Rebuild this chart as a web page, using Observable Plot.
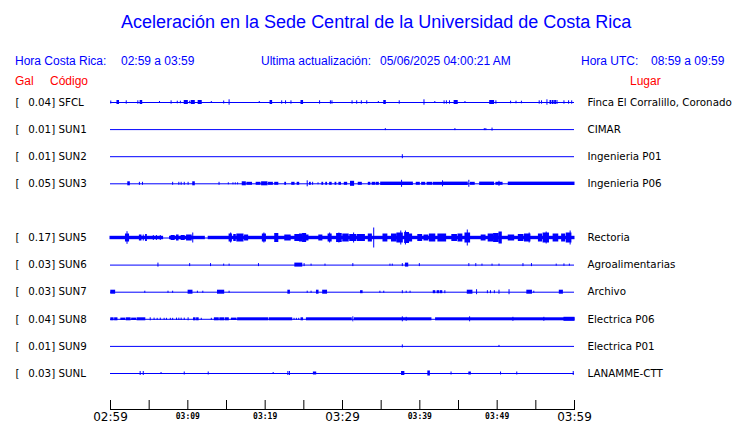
<!DOCTYPE html>
<html><head><meta charset="utf-8">
<script src="https://cdn.jsdelivr.net/npm/d3@7"></script>
<script src="https://cdn.jsdelivr.net/npm/@observablehq/plot@0.6"></script>
<style>
html,body{margin:0;padding:0;background:#fff;}
#chart{position:relative;width:740px;height:423px;overflow:hidden;background:#fff;}
#chart svg{position:absolute;left:0;top:0;}
.h{position:absolute;white-space:pre;font-family:"Liberation Sans",Arial,sans-serif;font-size:12px;line-height:12px;z-index:2;}
.b{color:#0000ff}.r{color:#ff0000}
.t{font-size:18px;line-height:18px;}
</style></head><body>
<div id="chart">
  <div class="h b t" style="left:121px;top:13px;">Aceleración en la Sede Central de la Universidad de Costa Rica</div>
  <div class="h b" style="left:15px;top:55px;">Hora Costa Rica:</div>
  <div class="h b" style="left:121px;top:55px;">02:59 a 03:59</div>
  <div class="h b" style="left:261px;top:55px;">Ultima actualización:</div>
  <div class="h b" style="left:380px;top:55px;">05/06/2025 04:00:21 AM</div>
  <div class="h b" style="left:581px;top:55px;">Hora UTC:</div>
  <div class="h b" style="left:651px;top:55px;">08:59 a 09:59</div>
  <div class="h r" style="left:15px;top:75px;">Gal</div>
  <div class="h r" style="left:50px;top:75px;">Código</div>
  <div class="h r" style="left:630px;top:75px;">Lugar</div>
</div>
<script>
// ---- data ----
const CODES = ["SFCL","SUN1","SUN2","SUN3","SUN4","SUN5","SUN6","SUN7","SUN8","SUN9","SUNL"];
const PEAK_GAL = [0.04,0.01,0.01,0.05,null,0.17,0.03,0.03,0.04,0.01,0.03];
const PLACES = ["Finca El Corralillo, Coronado","CIMAR","Ingenieria P01","Ingenieria P06","","Rectoria","Agroalimentarias","Archivo","Electrica P06","Electrica P01","LANAMME-CTT"];

// minutes since 02:59 (local time)
const TIME_DOMAIN = [0, 60];
const ALL_TICKS = [0,5,10,15,20,25,30,35,40,45,50,55,60];
const MAJOR_TICKS = [0,30,60];
const MAJOR_LABELS = ["02:59","03:29","03:59"];
const MINOR_TICKS = [10,20,40,50];
const MINOR_LABELS = ["03:09","03:19","03:39","03:49"];

// bursts: [start minute, end minute, half amplitude]
const SFCL = [[0.1,0.1,1.5],[0.9,1.1,2],[2.1,2.1,1.7],[3.6,3.6,1.7],[3.9,4.1,2],[6.4,6.4,1],[7.9,7.9,1.7],[8.7,8.7,1.3],[9.1,9.1,1.3],[9.6,10.0,2],[10.3,10.3,1.3],[10.5,10.9,2],[11.4,11.8,2],[13.1,13.1,1],[14.7,14.7,1.5],[15.4,15.4,2.7],[19.3,19.3,1],[20.7,20.9,2],[22.2,22.2,1.7],[22.7,22.7,1.7],[23.4,23.4,1.7],[24.7,24.9,2],[27.1,27.1,1.7],[28.5,28.5,1.7],[28.7,28.7,1.7],[31.3,31.3,1.7],[31.9,31.9,1.7],[32.5,32.5,1.7],[33.2,33.2,1.7],[34.7,34.7,1],[35.4,35.6,2],[37.4,37.4,1.7],[40.6,40.6,2.7],[42.0,42.0,1],[43.2,43.2,1.7],[43.5,43.5,1.7],[43.9,43.9,1.7],[44.5,44.9,2],[45.9,45.9,1],[49.1,49.6,2],[49.9,49.9,1.7],[51.8,51.8,1.3],[52.5,52.5,1.3],[53.2,53.2,1.3],[55.5,55.5,1.7],[55.8,55.8,1.7],[56.5,56.5,2.7],[56.9,57.0,2],[57.2,57.3,2],[57.5,57.6,2],[57.8,57.8,2],[58.7,58.7,1.7],[59.3,59.3,1.7],[59.7,59.7,1.7]];
const SUN1 = [[35.6,35.6,1],[44.6,44.6,1],[48.4,48.4,1],[48.6,48.6,1],[49.4,49.4,1.5]];
const SUN2 = [[37.8,37.8,2]];
const SUN3 = [[2.3,2.5,2],[3.8,3.8,1.5],[4.2,4.2,1.5],[8.1,8.1,1.5],[8.9,8.9,1.5],[9.2,9.2,1.5],[9.6,9.6,1.5],[10.1,10.1,1.5],[10.7,10.9,2],[14.1,14.1,1.5],[15.3,15.3,1],[15.9,15.9,1],[16.2,16.2,1],[16.5,16.5,1],[17.1,17.5,2],[17.7,18.3,1.5],[18.9,19.4,1.5],[19.6,20.3,2],[20.5,21.0,1.5],[21.3,21.7,1.5],[22.6,22.7,1.5],[23.5,23.8,1.5],[24.2,24.4,1.5],[25.5,25.5,3],[25.8,25.9,1.5],[26.2,26.2,1.5],[26.9,26.9,1],[27.4,27.5,1.5],[27.9,28.0,1.5],[28.4,28.6,1.5],[29.1,29.2,1.5],[29.6,29.8,1.5],[30.3,30.6,1.5],[31.1,31.5,2.5],[32.1,32.5,1.5],[33.4,33.6,1.5],[33.9,34.2,1.5],[34.4,34.7,1.5],[35.0,37.6,1.7],[37.7,37.7,3.5],[37.8,39.1,1.7],[39.6,40.0,1.5],[40.3,40.7,1.5],[41.0,41.6,1.5],[41.8,42.9,1.5],[43.0,43.0,3],[43.1,46.2,1.7],[46.4,46.4,3.5],[46.6,47.1,1.5],[47.8,49.6,1.7],[49.9,50.7,1.5],[50.3,50.3,2.5],[51.5,60,1.7]];
const SUN5 = [[0,6.8,1.7],[7.7,12.2,1.7],[12.7,60,1.7],[2.0,2.4,4],[2.2,2.2,6.3],[3.8,4.0,3],[4.3,4.3,3],[4.6,4.7,3.5],[5.6,5.6,2.5],[6.0,6.0,2.5],[6.5,6.5,2.5],[7.9,8.3,2.5],[8.6,8.8,3],[9.2,9.6,2.5],[9.9,10.5,3],[10.7,10.7,5],[15.4,15.7,4],[15.6,15.6,5],[16.0,16.2,3.5],[16.4,17.2,4],[17.4,17.8,3],[19.7,20.1,4],[19.9,19.9,5],[21.3,21.7,4.5],[22.6,23.3,3],[23.9,24.4,3.5],[24.5,24.8,4],[24.9,25.3,4.5],[25.4,25.6,3],[27.0,27.4,3],[28.2,28.6,4],[28.4,28.4,5],[29.3,29.9,4.5],[29.6,29.6,5],[30.1,30.8,4],[31.0,31.8,3.5],[31.5,31.5,5],[32.0,32.9,3.5],[33.4,33.8,4],[34.1,34.1,10],[35.3,35.8,4],[36.4,37.0,4],[37.1,37.8,5],[37.6,37.6,7],[38.1,38.6,5.5],[38.2,38.2,7],[38.7,39.0,4],[39.8,40.3,3.5],[40.6,41.1,3],[41.3,42.0,4],[42.4,43.4,4],[44.2,44.8,3.5],[45.0,45.5,4],[45.9,46.5,5],[46.2,46.2,8],[48.0,48.5,3],[48.9,49.5,4],[49.6,50.2,4.5],[50.3,50.6,6],[51.5,52.2,3],[52.8,53.4,3.5],[53.6,54.3,4],[54.2,54.2,5],[55.4,55.8,4],[56.0,56.7,5],[56.4,56.4,6],[57.3,57.9,4],[58.4,58.8,4],[59.0,59.6,5],[59.5,59.5,7]];
const SUN6 = [[6.2,6.2,2],[10.3,10.3,1.5],[13.0,13.0,1.5],[14.7,14.7,1],[15.4,15.4,1],[19.2,19.2,1.5],[23.9,24.8,2],[25.1,25.1,1.5],[26.0,26.0,1],[27.8,27.8,1],[31.4,31.4,1.5],[36.2,36.2,1],[36.5,36.5,1],[37.8,37.8,1.5],[38.2,38.5,2],[40.0,40.0,1.5],[46.4,46.4,1.5],[47.3,47.3,1.5],[48.1,48.1,1],[49.4,49.4,1],[50.3,50.3,1],[53.4,53.4,1.5],[54.5,54.5,1.5],[57.7,57.7,1],[58.7,58.7,1.2],[59.4,59.4,1]];
const SUN7 = [[0.1,0.6,2],[4.5,4.5,1],[7.5,7.5,1],[8.1,8.1,1],[10.1,10.6,2],[11.3,11.3,1],[12.0,12.0,1],[13.9,14.7,2],[15.4,15.4,1],[23.0,23.2,2],[25.5,25.5,1],[26.0,26.0,1],[26.7,26.9,2],[27.5,28.0,2],[32.4,32.6,1.5],[34.9,34.9,1],[35.4,35.4,1],[37.8,37.8,1.5],[38.3,38.3,1],[38.8,38.8,1],[41.8,42.0,1.5],[42.3,42.5,1.5],[42.7,42.9,1.5],[43.3,43.3,1.5],[46.2,46.8,2],[47.4,47.4,2.5],[48.8,48.8,1.5],[49.2,49.2,1.5],[49.7,49.7,1.5],[50.3,50.3,2],[51.6,51.6,2.5],[53.9,54.5,2],[54.8,54.8,1],[58.1,58.5,2]];
const SUN8 = [[0.1,0.4,1.5],[0.6,0.9,1.5],[1.4,1.9,1.2],[2.1,2.6,1.5],[2.8,3.3,1.2],[3.5,4.5,1.5],[5.2,5.2,1.5],[5.7,5.7,1.2],[6.1,6.1,1],[6.5,6.5,1.2],[7.0,7.0,1],[7.3,7.3,1],[7.8,7.8,1],[8.1,8.1,1],[8.6,8.6,1.2],[8.9,8.9,1.2],[9.2,9.2,1.2],[9.6,9.6,1.2],[10.1,10.1,1.5],[10.8,11.0,1.5],[11.2,11.4,1.5],[11.8,11.8,1],[13.1,13.1,1],[13.5,14.0,1.5],[14.2,14.7,1.5],[14.9,15.3,1.5],[15.7,16.3,1.2],[16.5,20.4,1.5],[20.6,23.5,1.5],[23.8,23.8,1],[24.1,24.1,1],[24.4,24.4,1],[24.7,24.9,1.5],[25.4,31.2,1.5],[31.4,31.4,2.5],[31.6,41.5,1.5],[37.8,37.8,2.5],[38.3,38.3,2],[42.1,60,1.5],[46.5,46.5,2.5],[52.1,52.1,2],[56.1,56.1,2],[58.7,60,2]];
const SUN9 = [[37.8,37.8,1.5],[50.3,50.3,1]];
const SUNL = [[3.9,3.9,2],[4.3,4.3,2],[6.6,6.6,1],[9.6,9.6,1.5],[12.7,12.7,1.5],[21.1,21.1,1],[23.0,23.0,2],[23.2,23.2,2],[26.3,26.6,1.5],[37.7,38.0,2],[41.1,41.3,2.5],[44.1,44.1,1.5],[46.4,46.6,1.5],[50.5,50.5,1.5],[52.6,52.6,1.5],[59.9,59.9,2]];

const TRACES = {SFCL, SUN1, SUN2, SUN3, SUN5, SUN6, SUN7, SUN8, SUN9, SUNL};

// ---- table built from the arrays ----
const ACTIVE = CODES.filter(c => TRACES[c]);
const BURSTS = ACTIVE.flatMap(code => TRACES[code].map(([t0, t1, amp]) => ({code, t0, t1, amp})));
const peakOf = c => PEAK_GAL[CODES.indexOf(c)];
const placeOf = c => PLACES[CODES.indexOf(c)];

const BLUE = "#0000ff";
const AX_DY = 22.45;
const labelFont = {fontFamily: "DejaVu Sans", fontSize: 10.3, fill: "black", label: null};

const chart = Plot.plot({
  width: 740, height: 423,
  marginTop: 88.45, marginBottom: 36.45, marginLeft: 110, marginRight: 166,
  facet: {marginTop: 0, marginRight: 0, marginBottom: 0, marginLeft: 0},
  x: {domain: TIME_DOMAIN, label: null},
  y: {domain: [-13.55, 13.55], axis: null},
  fy: {domain: CODES, padding: 0, round: false, label: null},
  style: {background: "transparent", color: "black", overflow: "visible"},
  marks: [
    Plot.ruleY(ACTIVE, {fy: d => d, y: 0, x1: TIME_DOMAIN[0], x2: TIME_DOMAIN[1], stroke: BLUE, strokeWidth: 1}),
    Plot.rect(BURSTS, {fy: "code", x1: "t0", x2: "t1", y1: d => -d.amp, y2: "amp", fill: BLUE, insetLeft: -0.5, insetRight: -0.5}),
    Plot.axisFy({anchor: "left", tickSize: 0, tickPadding: 0, dx: -95, textAnchor: "start",
      tickFormat: c => peakOf(c) == null ? "" : "[", ...labelFont}),
    Plot.axisFy({anchor: "left", tickSize: 0, tickPadding: 0, dx: -82.3, textAnchor: "start",
      tickFormat: c => peakOf(c) == null ? "" : `${peakOf(c).toFixed(2)}] ${c}`, ...labelFont}),
    Plot.axisFy({anchor: "right", tickSize: 0, tickPadding: 13, textAnchor: "start",
      tickFormat: c => placeOf(c), ...labelFont}),
    Plot.frame({anchor: "bottom", facetAnchor: "bottom", dy: AX_DY, stroke: "black"}),
    Plot.axisX(ALL_TICKS, {tickSize: -9, tickFormat: () => "", facetAnchor: "bottom", dy: AX_DY, stroke: "black", label: null}),
    Plot.axisX(MAJOR_TICKS, {tickSize: 0, tickPadding: 2.7, facetAnchor: "bottom", dy: AX_DY, label: null,
      tickFormat: t => MAJOR_LABELS[MAJOR_TICKS.indexOf(t)], fontFamily: "DejaVu Sans", fontSize: 12, fill: "black"}),
    Plot.axisX(MINOR_TICKS, {tickSize: 0, tickPadding: 3.5, facetAnchor: "bottom", dy: AX_DY, label: null,
      tickFormat: t => MINOR_LABELS[MINOR_TICKS.indexOf(t)], fontFamily: "DejaVu Sans Mono", fontWeight: "bold", fontSize: 8, fill: "black"})
  ]
});
document.getElementById("chart").prepend(chart);
</script>
</body></html>
